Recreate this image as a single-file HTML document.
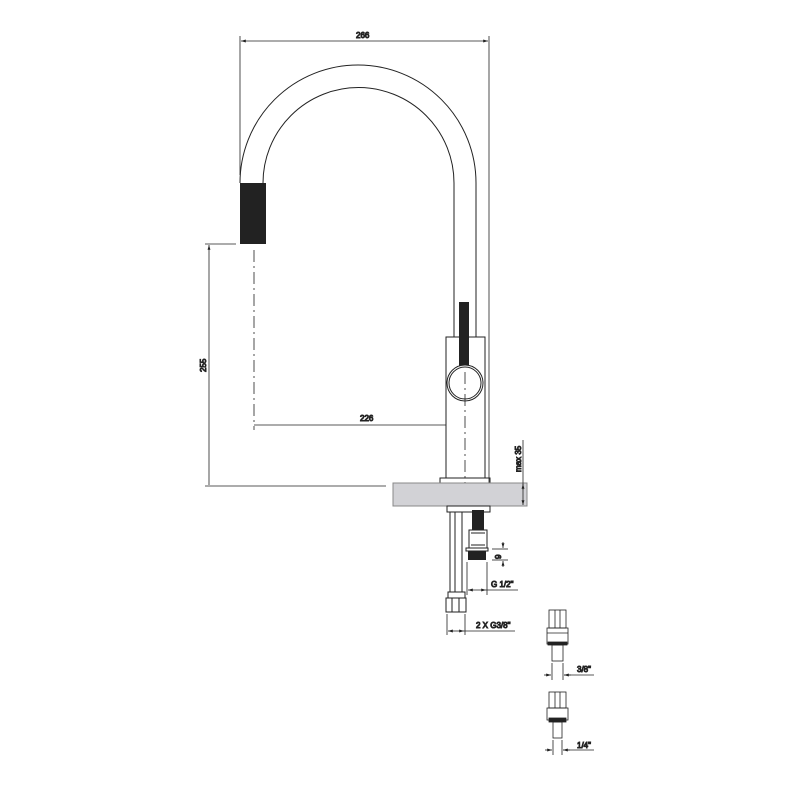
<!DOCTYPE html>
<html><head><style>body{margin:0;background:#fff}svg{display:block}text{font-family:"Liberation Sans",sans-serif;font-size:8px;fill:#333}</style></head>
<body>
<svg width="800" height="800" viewBox="0 0 800 800" fill="none" stroke="#222" stroke-width="1">
<defs><marker id="a" viewBox="0 0 10 10" refX="10" refY="5" markerWidth="6" markerHeight="6" orient="auto-start-reverse"><path d="M0,2 L10,5 L0,8z" fill="#222" stroke="none"/></marker></defs>
<!-- top dim -->
<line x1="240" y1="36" x2="240" y2="175" stroke-width="0.8"/>
<line x1="489" y1="36" x2="489" y2="486" stroke-width="0.8"/>
<line x1="241" y1="41" x2="488" y2="41" stroke-width="0.8" marker-start="url(#a)" marker-end="url(#a)"/>
<text x="356" y="38">266</text>
<!-- spout -->
<path d="M240,183 A118,118 0 0 1 476,183 L476,337"/>
<path d="M263,183 A95,95 0 0 1 454,183 L454,337"/>
<rect x="240" y="183" width="26" height="61" fill="#222" stroke="none"/>
<line x1="254" y1="250" x2="254" y2="430" stroke-width="0.8" stroke-dasharray="12,4,2,4"/>
<!-- 255 dim -->
<line x1="205" y1="244" x2="236" y2="244" stroke-width="0.8"/>
<line x1="209" y1="245" x2="209" y2="485" stroke-width="0.8" marker-start="url(#a)"/>
<line x1="205" y1="486" x2="386" y2="486" stroke-width="0.8"/>
<text x="0" y="0" transform="translate(206,372) rotate(-90)">255</text>
<!-- 226 dim -->
<line x1="254" y1="425" x2="464" y2="425" stroke-width="0.8" marker-end="url(#a)"/>
<text x="360" y="421">226</text>
<!-- body -->
<rect x="446" y="337" width="39" height="141" fill="#fff"/>
<line x1="454" y1="325" x2="454" y2="337"/><line x1="476" y1="325" x2="476" y2="337"/>
<rect x="459" y="302" width="10" height="70" fill="#222" stroke="none"/>
<circle cx="465" cy="383" r="18" fill="#fff"/>
<circle cx="465" cy="383" r="16"/>
<line x1="465" y1="372" x2="465" y2="492" stroke-width="0.8" stroke-dasharray="12,4,2,4"/>
<rect x="440" y="478" width="50" height="5"/>
<!-- counter -->
<rect x="393" y="483" width="134" height="23" fill="#d2d2d6" stroke="#888"/>
<line x1="523" y1="440" x2="523" y2="505" stroke-width="0.8" marker-end="url(#a)"/>
<line x1="523" y1="484" x2="523" y2="490" stroke-width="0.8" marker-start="url(#a)"/>
<text x="0" y="0" transform="translate(521,472) rotate(-90)">max 35</text>
<!-- under -->
<rect x="447" y="506" width="43" height="6"/>
<line x1="450" y1="512" x2="450" y2="592"/><line x1="455" y1="512" x2="455" y2="592"/><line x1="462" y1="512" x2="462" y2="592"/>
<rect x="448" y="592" width="17" height="6"/>
<rect x="446" y="598" width="20" height="14"/>
<line x1="452" y1="598" x2="452" y2="612"/><line x1="459" y1="598" x2="459" y2="612"/>
<rect x="472" y="510" width="12" height="20" fill="#222" stroke="none"/>
<rect x="469" y="530" width="18" height="18"/>
<line x1="471" y1="533" x2="485" y2="533"/><line x1="471" y1="545" x2="485" y2="545"/>
<rect x="466" y="548" width="22" height="3"/>
<rect x="468" y="551" width="18" height="9" fill="#222" stroke="none"/>
<line x1="492" y1="549" x2="508" y2="549" stroke-width="0.8"/><line x1="492" y1="560" x2="508" y2="560" stroke-width="0.8"/>
<line x1="503" y1="542" x2="503" y2="548" stroke-width="0.8" marker-end="url(#a)"/>
<line x1="503" y1="567" x2="503" y2="561" stroke-width="0.8" marker-end="url(#a)"/>
<text x="0" y="0" transform="translate(501,559) rotate(-90)">9</text>
<line x1="467" y1="562" x2="467" y2="595" stroke-width="0.8"/><line x1="487" y1="562" x2="487" y2="595" stroke-width="0.8"/>
<line x1="468" y1="590" x2="486" y2="590" stroke-width="0.8" marker-start="url(#a)" marker-end="url(#a)"/>
<line x1="486" y1="590" x2="518" y2="590" stroke-width="0.8"/>
<text x="491" y="587">G 1/2"</text>
<line x1="447" y1="614" x2="447" y2="635" stroke-width="0.8"/><line x1="465" y1="614" x2="465" y2="635" stroke-width="0.8"/>
<line x1="448" y1="631" x2="464" y2="631" stroke-width="0.8" marker-start="url(#a)" marker-end="url(#a)"/>
<line x1="464" y1="631" x2="515" y2="631" stroke-width="0.8"/>
<text x="476" y="628">2 X G3/8"</text>
<!-- fittings -->
<g stroke-width="0.8">
<rect x="549" y="610" width="17" height="18"/><line x1="555" y1="610" x2="555" y2="628"/><line x1="560" y1="610" x2="560" y2="628"/>
<rect x="547" y="628" width="21" height="16"/><line x1="547" y1="633" x2="568" y2="633"/>
<rect x="548" y="642" width="19" height="3" fill="#222"/>
<rect x="552" y="645" width="11" height="16"/>
<line x1="552" y1="663" x2="552" y2="680"/><line x1="563" y1="663" x2="563" y2="680"/>
<line x1="544" y1="675" x2="551" y2="675" marker-end="url(#a)"/><line x1="571" y1="675" x2="564" y2="675" marker-end="url(#a)"/><line x1="564" y1="675" x2="594" y2="675"/>
<rect x="549" y="692" width="17" height="16"/><line x1="555" y1="692" x2="555" y2="708"/><line x1="560" y1="692" x2="560" y2="708"/>
<rect x="547" y="708" width="21" height="12"/>
<rect x="549" y="718" width="17" height="4" fill="#222"/>
<rect x="553" y="722" width="9" height="16"/>
<line x1="553" y1="740" x2="553" y2="755"/><line x1="562" y1="740" x2="562" y2="755"/>
<line x1="545" y1="750" x2="552" y2="750" marker-end="url(#a)"/><line x1="570" y1="750" x2="563" y2="750" marker-end="url(#a)"/><line x1="563" y1="750" x2="594" y2="750"/>
</g>
<text x="577" y="672">3/8"</text>
<text x="577" y="748">1/4"</text>
</svg>
</body></html>
